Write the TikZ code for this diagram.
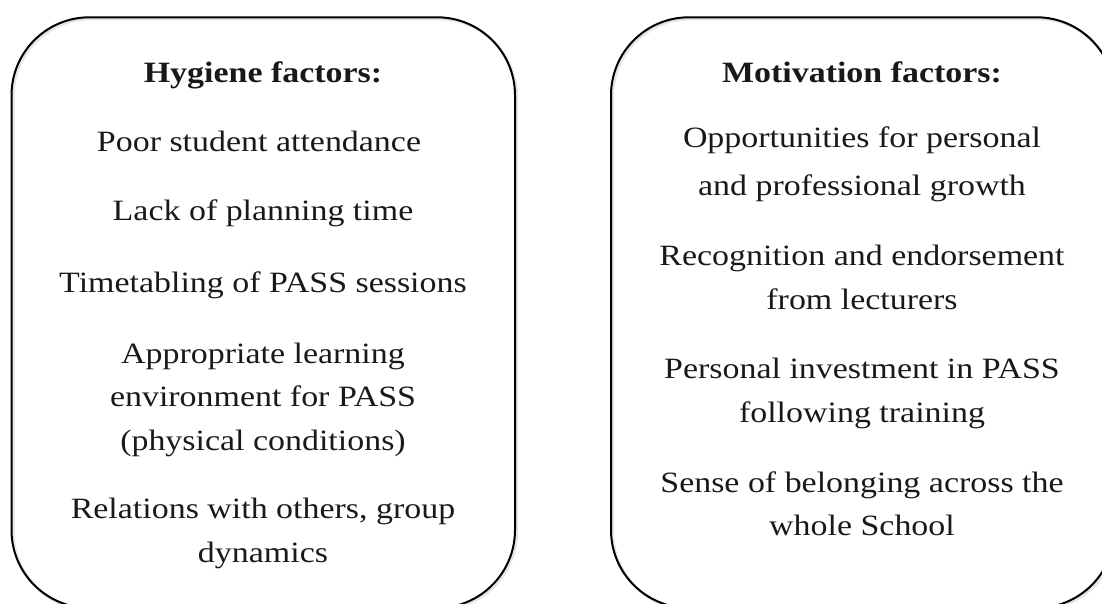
\documentclass[tikz,border=0pt]{standalone}
\usepackage{fontspec}
\setmainfont{Liberation Serif}[FakeStretch=1.15]
\begin{document}
\begin{tikzpicture}[x=1pt,y=-1pt,
  box/.style={draw=black,line width=2pt,rounded corners=78pt,inner sep=0pt,outer sep=0pt},
  boxshadow/.style={draw=black!10,line width=3pt,rounded corners=78pt,inner sep=0pt,outer sep=0pt},
  txt/.style={anchor=base,inner sep=0pt,text=black!90,font=\fontsize{29.5}{44}\selectfont},
  head/.style={txt,font=\fontsize{29.5}{44}\selectfont\bfseries}]
\useasboundingbox (0,0) rectangle (1102,604);
\clip (0,0) rectangle (1102,604);
% shadows
\node[boxshadow,minimum width=503.5pt,minimum height=590.7pt] (Ls) at (264.75,314.15) {};
\node[boxshadow,minimum width=503.5pt,minimum height=590.7pt] (Rs) at (864.25,314.15) {};
% boxes
\node[box,minimum width=503.5pt,minimum height=590.7pt] (L) at (263.25,312.65) {};
\node[box,minimum width=503.5pt,minimum height=590.7pt] (R) at (862.75,312.65) {};
% left texts
\node[head] (h0) at (263,83) {Hygiene factors:};
\node[txt] (h1) at (259,152) {Poor student attendance};
\node[txt] (h2) at (263,220) {Lack of planning time};
\node[txt] (h3) at (263,292) {Timetabling of PASS sessions};
\node[txt] (h4a) at (263,363) {Appropriate learning};
\node[txt] (h4b) at (263,406) {environment for PASS};
\node[txt] (h4c) at (263,450) {(physical conditions)};
\node[txt] (h5a) at (263,518) {Relations with others, group};
\node[txt] (h5b) at (263,562) {dynamics};
% right texts
\node[head] (m0) at (862,83) {Motivation factors:};
\node[txt] (m1a) at (862,148) {Opportunities for personal};
\node[txt] (m1b) at (862,195) {and professional growth};
\node[txt] (m2a) at (862,265) {Recognition and endorsement};
\node[txt] (m2b) at (862,309) {from lecturers};
\node[txt] (m3a) at (862,378) {Personal investment in PASS};
\node[txt] (m3b) at (862,422) {following training};
\node[txt] (m4a) at (862,492) {Sense of belonging across the};
\node[txt] (m4b) at (862,535) {whole School};
\end{tikzpicture}
\end{document}
